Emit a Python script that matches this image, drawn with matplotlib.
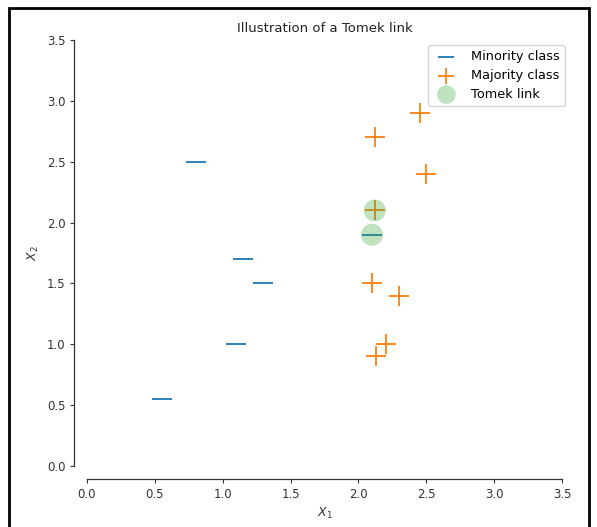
import matplotlib
matplotlib.use("Agg")
import matplotlib.pyplot as plt
from matplotlib.patches import Rectangle

# minority / majority samples
min_x = [0.8, 1.15, 1.3, 1.1, 0.55, 2.1]
min_y = [2.5, 1.7, 1.5, 1.0, 0.55, 1.9]
maj_x = [2.45, 2.12, 2.5, 2.12, 2.1, 2.3, 2.2, 2.13]
maj_y = [2.9, 2.7, 2.4, 2.1, 1.5, 1.4, 1.0, 0.9]
tomek_x = [2.12, 2.1]
tomek_y = [2.1, 1.9]

fig = plt.figure(figsize=(5.97, 5.27), dpi=100)
ax = fig.add_axes([0.1457, 0.1157, 0.7957, 0.8083])

ax.scatter(min_x, min_y, s=200, marker='_', color='#1f77b4', linewidths=1.3,
           label='Minority class')
ax.scatter(maj_x, maj_y, s=200, marker='+', color='#ff7f0e', linewidths=1.3,
           label='Majority class')
ax.scatter(tomek_x, tomek_y, s=250, color='#2ca02c', alpha=0.3, edgecolors='none',
           label='Tomek link')

ax.set_xlim(0, 3.5)
ax.set_ylim(0, 3.5)
ax.set_xticks([0.0, 0.5, 1.0, 1.5, 2.0, 2.5, 3.0, 3.5])
ax.set_yticks([0.0, 0.5, 1.0, 1.5, 2.0, 2.5, 3.0, 3.5])
ax.tick_params(labelsize=8.5, colors='#333333', length=3, width=0.8)
for side in ['top', 'right']:
    ax.spines[side].set_visible(False)
for side in ['left', 'bottom']:
    ax.spines[side].set_position(('outward', 9))
    ax.spines[side].set_linewidth(0.9)
    ax.spines[side].set_color('#333333')

ax.set_title('Illustration of a Tomek link', fontsize=9.5, color='#222222')
ax.set_xlabel('$X_1$', fontsize=9, color='#333333')
ax.set_ylabel('$X_2$', fontsize=9, color='#333333')
ax.legend(loc='upper right', bbox_to_anchor=(1.006, 0.988), borderaxespad=0,
          fontsize=9.3, markerscale=0.85, handletextpad=0.9, labelspacing=0.45)

# black frame around the whole picture
fig.patches.append(Rectangle((0.015, -0.01), 0.972, 0.995, transform=fig.transFigure,
                             fill=False, edgecolor='black', linewidth=2))

fig.savefig('out.png', dpi=100)
